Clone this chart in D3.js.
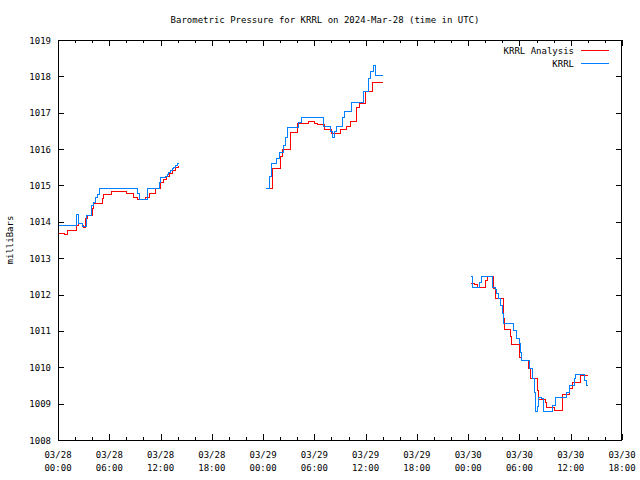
<!DOCTYPE html>
<html>
<head>
<meta charset="utf-8">
<script src="https://cdn.jsdelivr.net/npm/d3@7"></script>
<style>
  html, body { margin: 0; padding: 0; background: #fff; }
  text { font-family: "DejaVu Sans Mono", "Liberation Mono", monospace; font-size: 9px; fill: #000; }
</style>
</head>
<body>
<svg id="chart" width="640" height="480"></svg>
<script>
// ---- data (hours since 2024-03-28 00:00 UTC; null = gap) ----
const analysisHours = [
  0.0, 0.7, 1.1, 2.05, 2.3, 2.8, 2.95, 3.15, 3.35, 3.95, 4.15, 5.15, 5.3, 6.2, 8.0, 8.8, 9.2, 10.2, 10.7, 11.3, 11.9, 12.25, 12.6, 12.95, 13.3, 13.65, 14.05,
  null,
  24.7, 25.0, 25.95, 26.2, 27.1, 28.0, 29.2, 29.9, 30.25, 31.15, 32.0, 33.05, 33.75, 34.15, 34.9, 35.2, 35.9, 36.75, 37.9,
  null,
  48.2, 48.7, 49.05, 50.0, 50.2, 50.9, 51.1, 52.1, 52.25, 52.85, 53.05, 54.0, 54.15, 55.0, 55.2, 56.05, 56.2, 56.95, 57.1, 58.1, 59.0, 59.85, 60.15, 61.1, 61.9
];
const analysisValues = [
  1013.68, 1013.66, 1013.78, 1013.90, 1013.98, 1013.90, 1013.85, 1014.10, 1014.19, 1014.37, 1014.51, 1014.65, 1014.76, 1014.86, 1014.78, 1014.69, 1014.63, 1014.69, 1014.78, 1014.92, 1015.09, 1015.18, 1015.26, 1015.34, 1015.42, 1015.50, 1015.56,
  null,
  1014.92, 1015.47, 1015.80, 1016.00, 1016.48, 1016.71, 1016.78, 1016.73, 1016.69, 1016.54, 1016.45, 1016.54, 1016.64, 1016.77, 1017.17, 1017.28, 1017.60, 1017.84, 1017.84,
  null,
  1012.31, 1012.29, 1012.22, 1012.40, 1012.50, 1012.17, 1011.90, 1011.35, 1011.05, 1010.85, 1010.64, 1010.29, 1010.20, 1009.97, 1009.70, 1009.38, 1009.13, 1009.05, 1008.92, 1008.83, 1009.26, 1009.42, 1009.59, 1009.79, 1009.79
];
const krrlHours = [
  0.0, 2.1, 2.35, 2.75, 3.3, 3.85, 4.1, 4.35, 4.6, 4.8, 9.3, 9.5, 10.45, 11.8, 11.9, 12.5, 12.7, 12.9, 13.1, 13.3, 13.5, 13.7, 13.9, 14.1,
  null,
  24.2, 24.65, 24.9, 25.55, 25.85, 26.35, 26.6, 26.85, 28.1, 28.45, 31.0, 31.8, 32.05, 32.3, 32.55, 33.2, 33.5, 34.3, 35.65, 36.25, 36.55, 36.85, 37.15, 37.9,
  null,
  48.2, 48.45, 49.25, 49.55, 50.75, 51.1, 51.3, 51.5, 51.7, 51.9, 52.1, 53.3, 53.55, 53.9, 54.05, 54.2, 55.15, 55.45, 55.65, 55.85, 56.0, 56.15, 56.5, 56.75, 57.8, 58.2, 59.5, 59.85, 60.35, 60.55, 61.55, 61.8, 61.9
];
const krrlValues = [
  1013.90, 1014.21, 1013.96, 1013.88, 1014.20, 1014.46, 1014.55, 1014.69, 1014.77, 1014.92, 1014.78, 1014.63, 1014.92, 1015.10, 1015.22, 1015.27, 1015.32, 1015.37, 1015.42, 1015.47, 1015.52, 1015.57, 1015.62, 1015.62,
  null,
  1014.94, 1015.26, 1015.61, 1015.75, 1015.91, 1016.11, 1016.34, 1016.62, 1016.75, 1016.89, 1016.64, 1016.51, 1016.33, 1016.51, 1016.64, 1016.89, 1017.05, 1017.30, 1017.60, 1017.95, 1018.16, 1018.31, 1018.04, 1018.04,
  null,
  1012.51, 1012.22, 1012.35, 1012.51, 1012.22, 1012.15, 1012.03, 1011.90, 1011.71, 1011.48, 1011.21, 1011.03, 1010.81, 1010.66, 1010.43, 1010.20, 1009.97, 1009.70, 1009.33, 1008.80, 1008.93, 1009.19, 1009.15, 1008.81, 1008.95, 1009.19, 1009.33, 1009.51, 1009.70, 1009.81, 1009.65, 1009.51, 1009.51
];
const xTickHours = [0, 6, 12, 18, 24, 30, 36, 42, 48, 54, 60, 66];
const xTickDates = ["03/28", "03/28", "03/28", "03/28", "03/29", "03/29", "03/29", "03/29", "03/30", "03/30", "03/30", "03/30"];
const xTickTimes = ["00:00", "06:00", "12:00", "18:00", "00:00", "06:00", "12:00", "18:00", "00:00", "06:00", "12:00", "18:00"];
const yTicks = [1008, 1009, 1010, 1011, 1012, 1013, 1014, 1015, 1016, 1017, 1018, 1019];
const seriesNames = ["KRRL Analysis", "KRRL"];
const seriesColors = ["#ff0000", "#0080ff"];
const titleText = "Barometric Pressure for KRRL on 2024-Mar-28 (time in UTC)";
const yLabelText = "milliBars";

// ---- layout ----
const PL = 58, PR = 622, PT = 40, PB = 440;
const svg = d3.select("#chart");
const x = d3.scaleLinear().domain([0, 66]).range([PL, PR]);
const y = d3.scaleLinear().domain([1008, 1019]).range([PB, PT]);

// title
svg.append("text").attr("x", 325).attr("y", 23).attr("text-anchor", "middle").text(titleText);
// y label
svg.append("text").attr("transform", "translate(13,240) rotate(-90)").attr("text-anchor", "middle").text(yLabelText);

// axes (ticks inward, mirrored)
const minorHours = d3.range(0, 67, 2).filter(h => h % 6 !== 0);
const axisGroups = [
  svg.append("g").attr("transform", `translate(0,${PB})`)
    .call(d3.axisBottom(x).tickValues(xTickHours).tickSize(-6).tickFormat("")),
  svg.append("g").attr("transform", `translate(0,${PB})`)
    .call(d3.axisBottom(x).tickValues(minorHours).tickSize(-3).tickFormat("")),
  svg.append("g").attr("transform", `translate(0,${PT})`)
    .call(d3.axisTop(x).tickValues(xTickHours).tickSize(-6).tickFormat("")),
  svg.append("g").attr("transform", `translate(0,${PT})`)
    .call(d3.axisTop(x).tickValues(minorHours).tickSize(-3).tickFormat("")),
  svg.append("g").attr("transform", `translate(${PL},0)`)
    .call(d3.axisLeft(y).tickValues(yTicks).tickSize(-6).tickFormat("")),
  svg.append("g").attr("transform", `translate(${PR},0)`)
    .call(d3.axisRight(y).tickValues(yTicks).tickSize(-6).tickFormat(""))
];
axisGroups.forEach(g => {
  g.select(".domain").remove();
  g.selectAll("line").attr("stroke", "#000").attr("shape-rendering", "crispEdges");
});

// frame
svg.append("rect").attr("x", PL + 0.5).attr("y", PT + 0.5).attr("width", PR - PL - 1).attr("height", PB - PT)
  .attr("fill", "none").attr("stroke", "#000").attr("shape-rendering", "crispEdges");

// y tick labels
svg.append("g").selectAll("text").data(yTicks).join("text")
  .attr("x", PL - 7).attr("y", d => y(d) + 3.5).attr("text-anchor", "end").text(d => d);

// x tick labels
const xl = svg.append("g");
xl.selectAll("text.d").data(xTickHours).join("text").attr("class", "d")
  .attr("x", d => x(d)).attr("y", 458).attr("text-anchor", "middle").text((d, i) => xTickDates[i]);
xl.selectAll("text.t").data(xTickHours).join("text").attr("class", "t")
  .attr("x", d => x(d)).attr("y", 471).attr("text-anchor", "middle").text((d, i) => xTickTimes[i]);

// series (pixel-snapped step lines)
function toPoints(hours, values) {
  return hours.map((h, i) => ({ h, v: values[i] }));
}
const line = d3.line()
  .defined(d => d.h !== null && d.v !== null)
  .x(d => Math.round(x(d.h)) + 0.5).y(d => Math.round(y(d.v)) + 0.5)
  .curve(d3.curveStepAfter);
const series = [toPoints(analysisHours, analysisValues), toPoints(krrlHours, krrlValues)];
svg.append("g").selectAll("path").data(series).join("path")
  .attr("d", line).attr("fill", "none")
  .attr("stroke", (d, i) => seriesColors[i]).attr("stroke-width", 1)
  .attr("shape-rendering", "crispEdges");

// legend
const leg = svg.append("g");
seriesNames.forEach((name, i) => {
  const ly = 50 + i * 13;
  leg.append("text").attr("x", 574).attr("y", ly + 3.5).attr("text-anchor", "end").text(name);
  leg.append("line").attr("x1", 581).attr("x2", 609).attr("y1", ly + 0.5).attr("y2", ly + 0.5)
    .attr("stroke", seriesColors[i]).attr("stroke-width", 1).attr("shape-rendering", "crispEdges");
});
</script>
</body>
</html>
